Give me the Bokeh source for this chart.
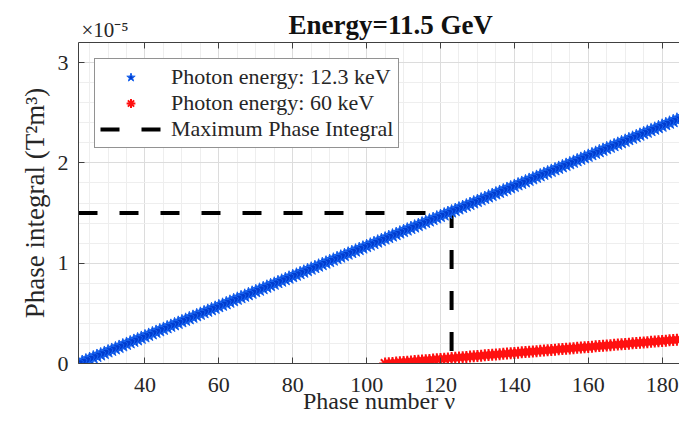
from bokeh.plotting import figure
from bokeh.models import FixedTicker, LinearAxis, Legend, LegendItem, Range1d, Title
from bokeh.embed import file_html
from bokeh.resources import INLINE

# ---- data (phase integral in units of 1e-5 T^2 m^3) ----
nu_blue = list(range(22, 190))
pi_blue = [
    0.000, 0.015, 0.030, 0.045, 0.060, 0.075, 0.090, 0.105, 0.120, 0.135,
    0.150, 0.165, 0.180, 0.195, 0.210, 0.225, 0.240, 0.255, 0.270, 0.285,
    0.300, 0.315, 0.330, 0.345, 0.360, 0.375, 0.390, 0.405, 0.420, 0.435,
    0.450, 0.465, 0.480, 0.495, 0.510, 0.525, 0.540, 0.555, 0.570, 0.585,
    0.600, 0.615, 0.630, 0.645, 0.660, 0.675, 0.690, 0.705, 0.720, 0.735,
    0.750, 0.765, 0.780, 0.795, 0.810, 0.825, 0.840, 0.855, 0.870, 0.885,
    0.900, 0.915, 0.930, 0.945, 0.960, 0.975, 0.990, 1.005, 1.020, 1.035,
    1.050, 1.065, 1.080, 1.095, 1.110, 1.125, 1.140, 1.155, 1.170, 1.185,
    1.200, 1.215, 1.230, 1.245, 1.260, 1.275, 1.290, 1.305, 1.320, 1.335,
    1.350, 1.365, 1.380, 1.395, 1.410, 1.425, 1.440, 1.455, 1.470, 1.485,
    1.500, 1.515, 1.530, 1.545, 1.560, 1.575, 1.590, 1.605, 1.620, 1.635,
    1.650, 1.665, 1.680, 1.695, 1.710, 1.725, 1.740, 1.755, 1.770, 1.785,
    1.800, 1.815, 1.830, 1.845, 1.860, 1.875, 1.890, 1.905, 1.920, 1.935,
    1.950, 1.965, 1.980, 1.995, 2.010, 2.025, 2.040, 2.055, 2.070, 2.085,
    2.100, 2.115, 2.130, 2.145, 2.160, 2.175, 2.190, 2.205, 2.220, 2.235,
    2.250, 2.265, 2.280, 2.295, 2.310, 2.325, 2.340, 2.355, 2.370, 2.385,
    2.400, 2.415, 2.430, 2.445, 2.460, 2.475, 2.490, 2.505,
]
nu_red = list(range(105, 190))
pi_red = [
    0.000, 0.003, 0.006, 0.009, 0.012, 0.015, 0.018, 0.021, 0.024, 0.027,
    0.030, 0.033, 0.036, 0.039, 0.042, 0.045, 0.048, 0.051, 0.054, 0.057,
    0.060, 0.063, 0.066, 0.069, 0.072, 0.075, 0.078, 0.081, 0.084, 0.087,
    0.090, 0.093, 0.096, 0.099, 0.102, 0.105, 0.108, 0.111, 0.114, 0.117,
    0.120, 0.123, 0.126, 0.129, 0.132, 0.135, 0.138, 0.141, 0.144, 0.147,
    0.150, 0.153, 0.156, 0.159, 0.162, 0.165, 0.168, 0.171, 0.174, 0.177,
    0.180, 0.183, 0.186, 0.189, 0.192, 0.195, 0.198, 0.201, 0.204, 0.207,
    0.210, 0.213, 0.216, 0.219, 0.222, 0.225, 0.228, 0.231, 0.234, 0.237,
    0.240, 0.243, 0.246, 0.249, 0.252,
]
max_nu = [22, 123, 123]
max_pi = [1.5, 1.5, 0.0]

x_ticks = [40, 60, 80, 100, 120, 140, 160, 180]
x_minor = [25, 30, 35, 45, 50, 55, 65, 70, 75, 85, 90, 95, 105, 110, 115,
           125, 130, 135, 145, 150, 155, 165, 170, 175, 185]
y_ticks = [0, 1, 2, 3]
y_minor = [0.2, 0.4, 0.6, 0.8, 1.2, 1.4, 1.6, 1.8, 2.2, 2.4, 2.6, 2.8, 3.2]

labels = ["Photon energy: 12.3 keV", "Photon energy: 60 keV", "Maximum Phase Integral"]

SERIF = "Liberation Serif"
AX = "#404040"
TXT = "#262626"

p = figure(width=679, height=421, output_backend="svg", toolbar_location=None,
           title=None,
           x_range=Range1d(22, 184.7), y_range=Range1d(0, 3.2),
           min_border_left=78, min_border_right=0, min_border_top=42,
           min_border_bottom=58)
p.outline_line_color = None
p.background_fill_color = "white"
p.border_fill_color = "white"

xt = FixedTicker(ticks=x_ticks, minor_ticks=x_minor)
yt = FixedTicker(ticks=y_ticks, minor_ticks=y_minor)
bottom = p.below[0]
left = p.left[0]
bottom.ticker = xt
left.ticker = yt

# top box edge: tick marks only (drawn as unlabeled minor ticks)
top = LinearAxis(ticker=FixedTicker(ticks=[], minor_ticks=x_ticks),
                 major_label_standoff=0, minor_tick_in=6, minor_tick_out=0,
                 major_tick_in=0, major_tick_out=0,
                 axis_line_color=AX, minor_tick_line_color=AX)
p.add_layout(top, "above")

for ax in [bottom, left]:
    ax.axis_line_color = AX
    ax.major_tick_line_color = AX
    ax.major_tick_in = 6
    ax.major_tick_out = 0
    ax.minor_tick_in = 0
    ax.minor_tick_out = 0
    ax.major_label_text_font = SERIF
    ax.major_label_text_color = TXT
    ax.major_label_text_font_size = "22px"

bottom.major_label_standoff = 14
left.major_label_standoff = 10

bottom.axis_label = "Phase number ν"
bottom.axis_label_text_font = SERIF
bottom.axis_label_text_font_style = "normal"
bottom.axis_label_text_font_size = "24px"
bottom.axis_label_text_color = TXT
bottom.axis_label_standoff = -7

left.axis_label = "Phase integral (T²m³)"
left.axis_label_text_font = SERIF
left.axis_label_text_font_style = "normal"
left.axis_label_text_font_size = "27px"
left.axis_label_text_color = TXT
left.axis_label_standoff = 5

p.xgrid.grid_line_color = "#dcdcdc"
p.ygrid.grid_line_color = "#dcdcdc"
p.xgrid.minor_grid_line_color = "#eeeeee"
p.ygrid.minor_grid_line_color = "#eeeeee"

r_red = p.scatter(nu_red, pi_red, marker="asterisk", size=12, line_color="#ff1010",
                  line_width=2)
r_max = p.line(max_nu, max_pi, line_width=4, line_color="black", line_dash="19 22")
r_blue = p.scatter(nu_blue, pi_blue, marker="star", size=14, fill_color="#003ccf",
                   line_color="#1763ef", line_width=1)

legend = Legend(items=[LegendItem(label=labels[0], renderers=[r_blue]),
                       LegendItem(label=labels[1], renderers=[r_red]),
                       LegendItem(label=labels[2], renderers=[r_max])],
                location=(16, 215), margin=0, padding=5, spacing=0,
                glyph_width=61, glyph_height=22, label_height=22, label_standoff=10,
                label_text_font=SERIF, label_text_font_size="22px",
                label_text_color=TXT,
                border_line_color="#262626", border_line_width=1,
                background_fill_color="white", background_fill_alpha=1)
p.add_layout(legend)

# exponent label first (nearest the frame), main title pulled down beside it
t_x10 = Title(text="×10⁻⁵", align="left", text_font=SERIF, text_font_size="21px",
              text_font_style="normal", text_color=TXT, standoff=2, offset=3)
p.add_layout(t_x10, "above")
t_main = Title(text="Energy=11.5 GeV", align="left", text_font=SERIF,
               text_font_size="27px", text_font_style="bold", text_color="#111111",
               standoff=-51, offset=210)
p.add_layout(t_main, "above")

open("out.html", "w").write(file_html(p, INLINE))
